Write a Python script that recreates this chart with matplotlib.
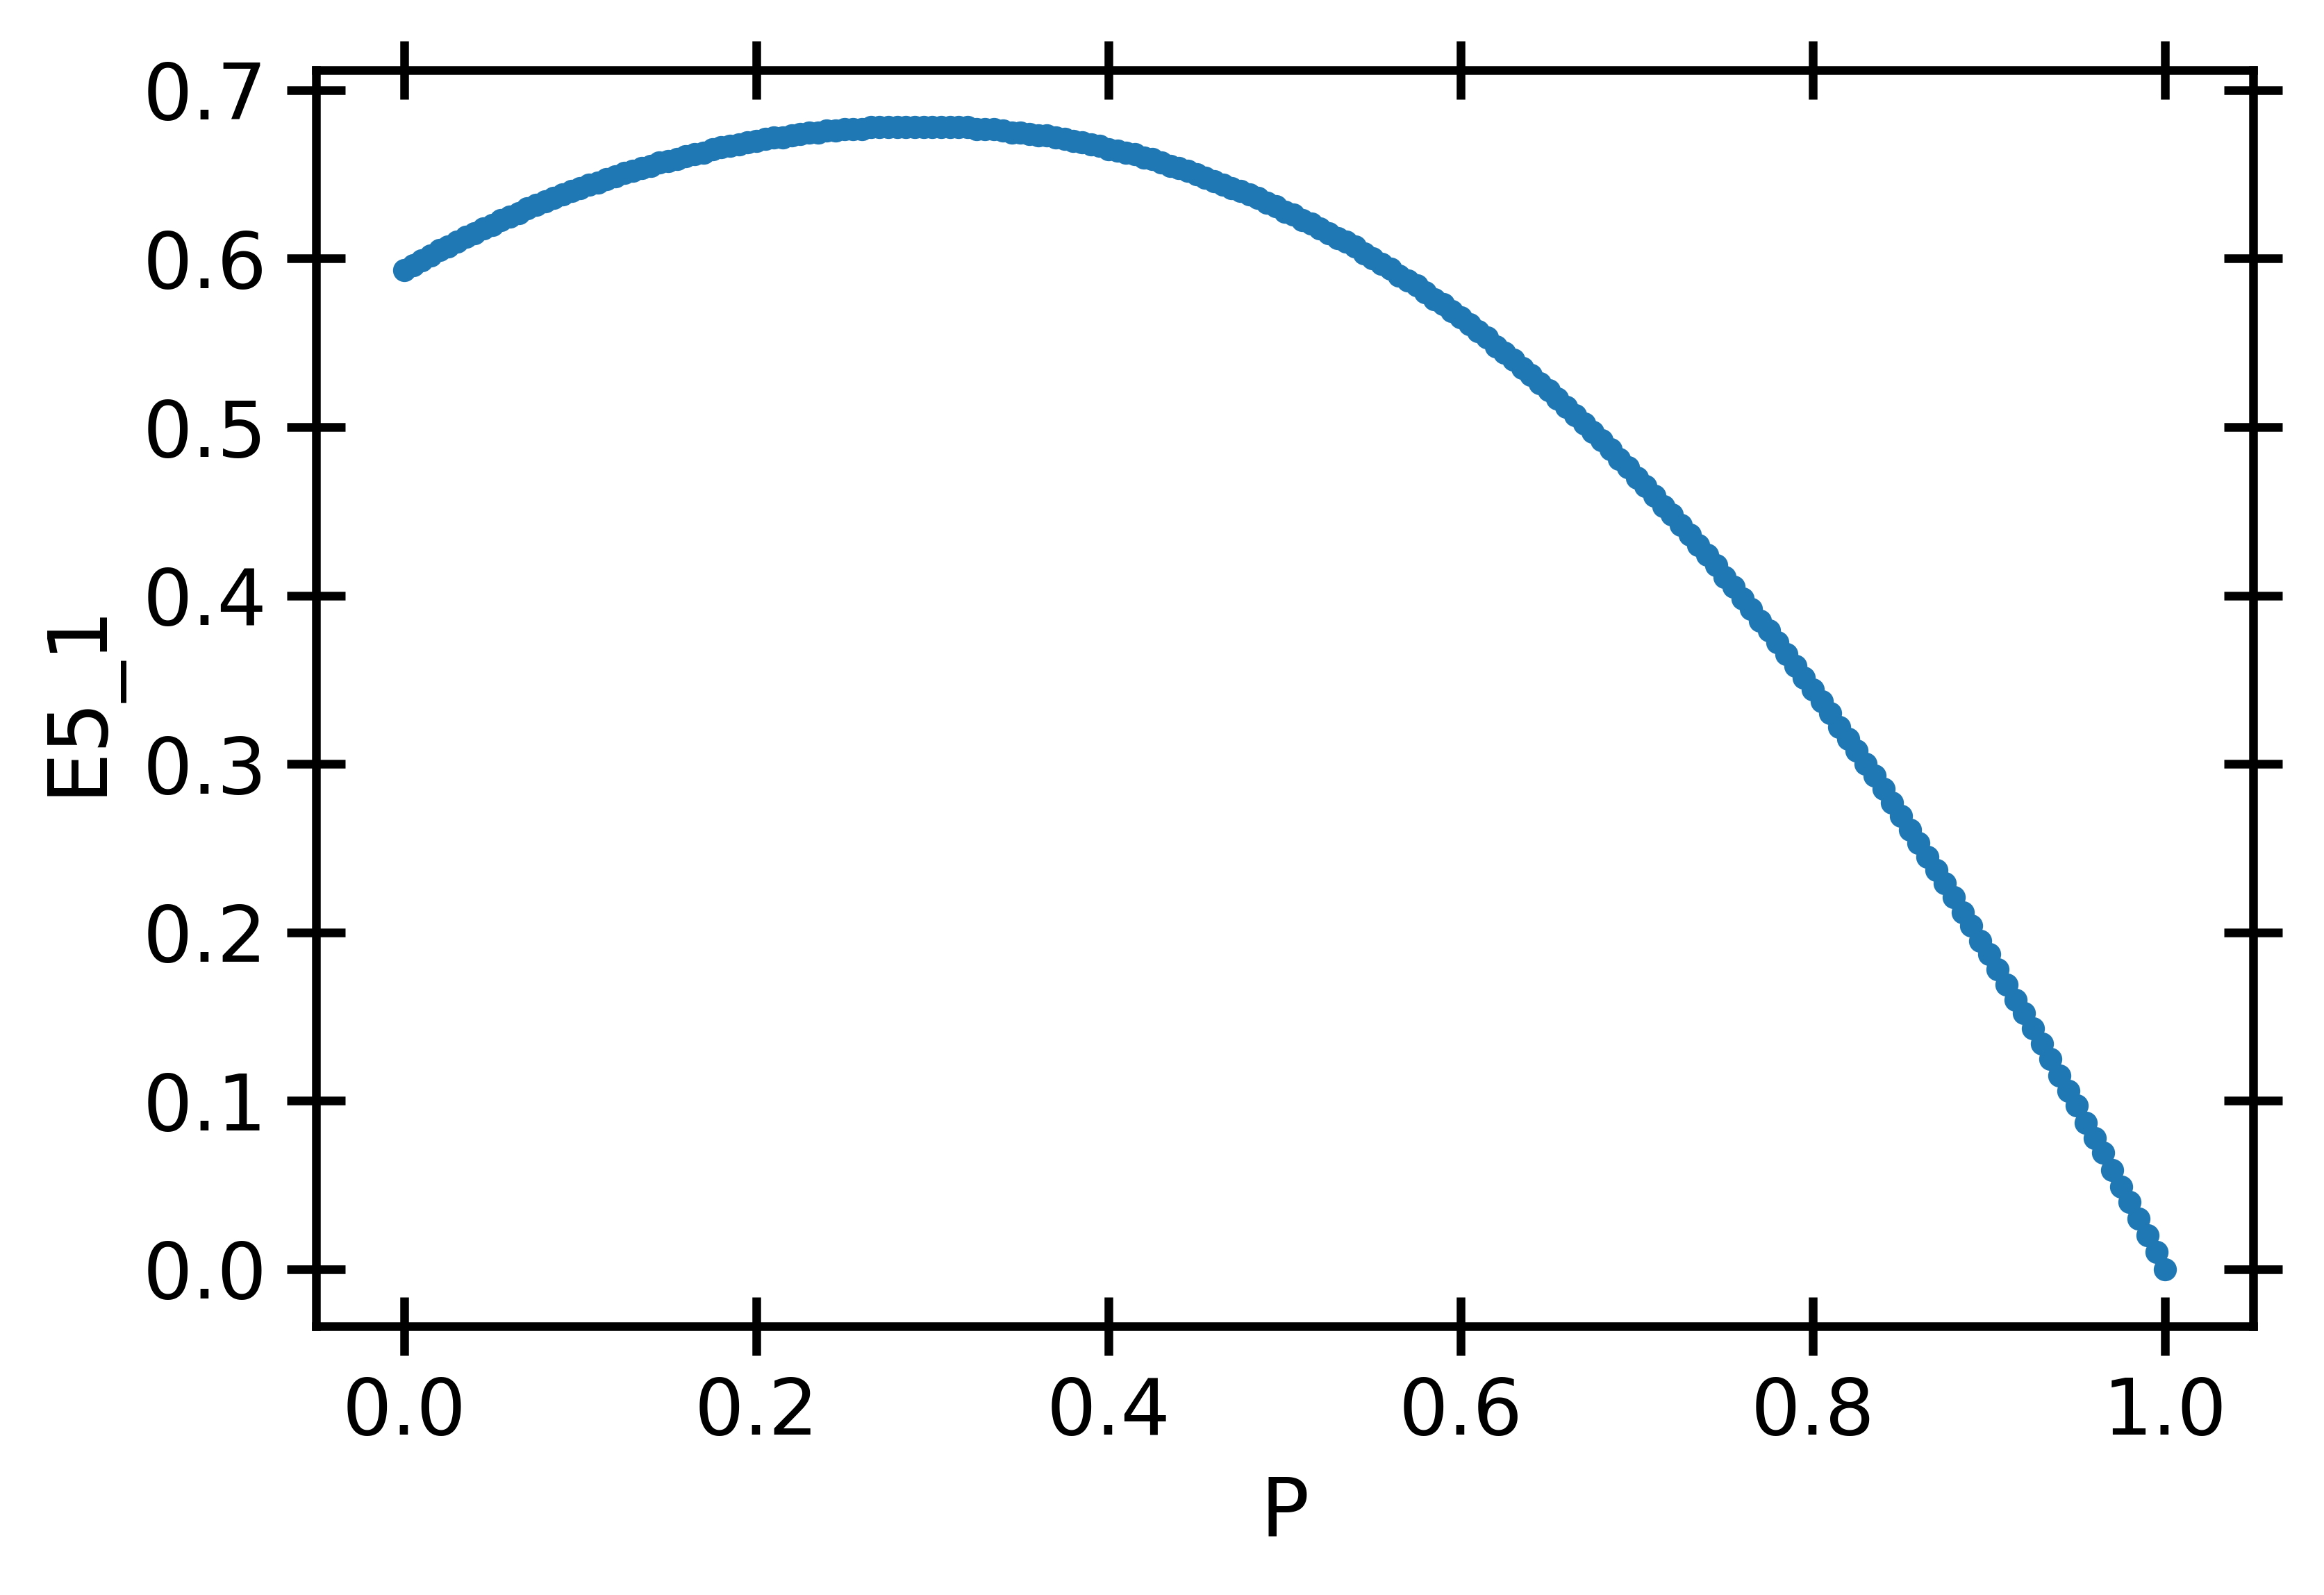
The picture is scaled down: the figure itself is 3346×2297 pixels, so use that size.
import matplotlib
matplotlib.use("Agg")
import matplotlib.pyplot as plt

P = [
    0.000, 0.005, 0.010, 0.015, 0.020, 0.025, 0.030, 0.035, 0.040, 0.045,
    0.050, 0.055, 0.060, 0.065, 0.070, 0.075, 0.080, 0.085, 0.090, 0.095,
    0.100, 0.105, 0.110, 0.115, 0.120, 0.125, 0.130, 0.135, 0.140, 0.145,
    0.150, 0.155, 0.160, 0.165, 0.170, 0.175, 0.180, 0.185, 0.190, 0.195,
    0.200, 0.205, 0.210, 0.215, 0.220, 0.225, 0.230, 0.235, 0.240, 0.245,
    0.250, 0.255, 0.260, 0.265, 0.270, 0.275, 0.280, 0.285, 0.290, 0.295,
    0.300, 0.305, 0.310, 0.315, 0.320, 0.325, 0.330, 0.335, 0.340, 0.345,
    0.350, 0.355, 0.360, 0.365, 0.370, 0.375, 0.380, 0.385, 0.390, 0.395,
    0.400, 0.405, 0.410, 0.415, 0.420, 0.425, 0.430, 0.435, 0.440, 0.445,
    0.450, 0.455, 0.460, 0.465, 0.470, 0.475, 0.480, 0.485, 0.490, 0.495,
    0.500, 0.505, 0.510, 0.515, 0.520, 0.525, 0.530, 0.535, 0.540, 0.545,
    0.550, 0.555, 0.560, 0.565, 0.570, 0.575, 0.580, 0.585, 0.590, 0.595,
    0.600, 0.605, 0.610, 0.615, 0.620, 0.625, 0.630, 0.635, 0.640, 0.645,
    0.650, 0.655, 0.660, 0.665, 0.670, 0.675, 0.680, 0.685, 0.690, 0.695,
    0.700, 0.705, 0.710, 0.715, 0.720, 0.725, 0.730, 0.735, 0.740, 0.745,
    0.750, 0.755, 0.760, 0.765, 0.770, 0.775, 0.780, 0.785, 0.790, 0.795,
    0.800, 0.805, 0.810, 0.815, 0.820, 0.825, 0.830, 0.835, 0.840, 0.845,
    0.850, 0.855, 0.860, 0.865, 0.870, 0.875, 0.880, 0.885, 0.890, 0.895,
    0.900, 0.905, 0.910, 0.915, 0.920, 0.925, 0.930, 0.935, 0.940, 0.945,
    0.950, 0.955, 0.960, 0.965, 0.970, 0.975, 0.980, 0.985, 0.990, 0.995,
    1.000,
]

# E5_1 values
E5_1 = [
    0.593, 0.596, 0.599, 0.602, 0.605, 0.607, 0.610, 0.613, 0.615, 0.618,
    0.620, 0.623, 0.625, 0.627, 0.630, 0.632, 0.634, 0.636, 0.638, 0.640,
    0.642, 0.644, 0.645, 0.647, 0.649, 0.651, 0.652, 0.654, 0.655, 0.657,
    0.658, 0.659, 0.661, 0.662, 0.663, 0.665, 0.666, 0.667, 0.668, 0.669,
    0.670, 0.671, 0.672, 0.672, 0.673, 0.674, 0.675, 0.675, 0.676, 0.676,
    0.677, 0.677, 0.677, 0.678, 0.678, 0.678, 0.678, 0.678, 0.678, 0.678,
    0.678, 0.678, 0.678, 0.678, 0.678, 0.677, 0.677, 0.677, 0.676, 0.675,
    0.675, 0.674, 0.673, 0.673, 0.672, 0.671, 0.670, 0.669, 0.668, 0.667,
    0.665, 0.664, 0.663, 0.662, 0.660, 0.659, 0.657, 0.655, 0.654, 0.652,
    0.650, 0.648, 0.646, 0.644, 0.642, 0.640, 0.638, 0.636, 0.633, 0.631,
    0.628, 0.626, 0.623, 0.621, 0.618, 0.615, 0.612, 0.610, 0.607, 0.603,
    0.600, 0.597, 0.594, 0.590, 0.587, 0.584, 0.580, 0.576, 0.573, 0.569,
    0.565, 0.561, 0.557, 0.553, 0.548, 0.544, 0.540, 0.535, 0.531, 0.526,
    0.522, 0.517, 0.512, 0.507, 0.502, 0.497, 0.492, 0.487, 0.481, 0.476,
    0.470, 0.465, 0.459, 0.453, 0.448, 0.442, 0.436, 0.430, 0.424, 0.418,
    0.411, 0.405, 0.398, 0.392, 0.385, 0.379, 0.372, 0.365, 0.358, 0.351,
    0.344, 0.337, 0.330, 0.322, 0.315, 0.308, 0.300, 0.293, 0.285, 0.277,
    0.269, 0.261, 0.253, 0.245, 0.237, 0.229, 0.221, 0.212, 0.204, 0.195,
    0.187, 0.178, 0.169, 0.160, 0.152, 0.143, 0.134, 0.125, 0.115, 0.106,
    0.097, 0.087, 0.078, 0.069, 0.059, 0.049, 0.040, 0.030, 0.020, 0.010,
    0.000,
]

DPI = 600
fig = plt.figure(figsize=(3346 / DPI, 2297 / DPI), dpi=DPI)
ax = fig.add_axes([0.136, 0.1685, 0.8335, 0.7875])

ax.scatter(P, E5_1, s=16, color="#1f77b4", linewidths=0, zorder=3)

ax.set_xlabel("P", fontsize=14)
ax.set_ylabel("E5_1", fontsize=14)
ax.tick_params(which="major", direction="inout", length=10, width=1.5,
               labelsize=13.5, top=True, right=True)
for sp in ax.spines.values():
    sp.set_linewidth(1.5)

fig.savefig("out.png", dpi=DPI)
